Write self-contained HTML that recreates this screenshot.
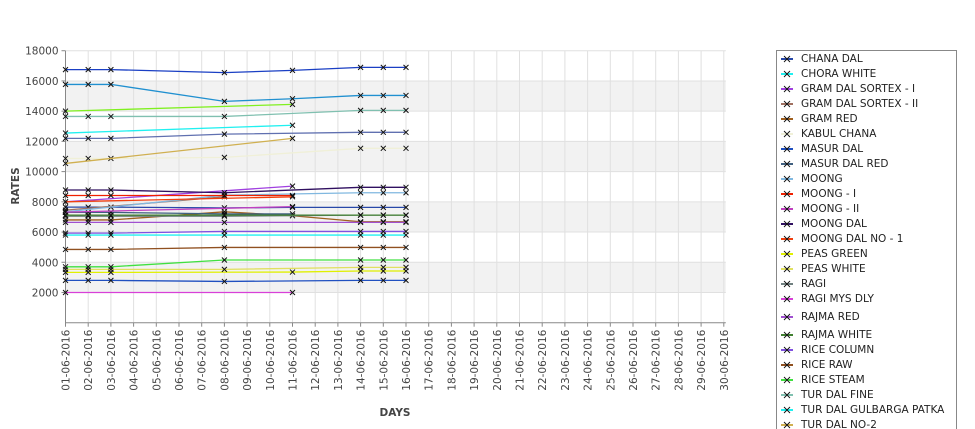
<!DOCTYPE html>
<html><head><meta charset="utf-8"><style>
body{margin:0;background:#fff;font-family:"DejaVu Sans","Liberation Sans",sans-serif;overflow:hidden;}
#wrap{position:relative;width:975px;height:429px;overflow:hidden;}
svg{display:block;}
</style></head><body>
<div id="wrap">
<svg id="chart" width="975" height="429"></svg>
</div>
<script>
const dayLabels = ["01-06-2016","02-06-2016","03-06-2016","04-06-2016","05-06-2016","06-06-2016","07-06-2016","08-06-2016","09-06-2016","10-06-2016","11-06-2016","12-06-2016","13-06-2016","14-06-2016","15-06-2016","16-06-2016","17-06-2016","18-06-2016","19-06-2016","20-06-2016","21-06-2016","22-06-2016","23-06-2016","24-06-2016","25-06-2016","26-06-2016","27-06-2016","28-06-2016","29-06-2016","30-06-2016"];
const yTicks = [2000,4000,6000,8000,10000,12000,14000,16000,18000];
const dataDays = [1,2,3,8,11,14,15,16];
const seriesNames = ["CHANA DAL","CHORA WHITE","GRAM DAL SORTEX  - I","GRAM DAL SORTEX - II","GRAM RED","KABUL CHANA","MASUR DAL","MASUR DAL RED","MOONG","MOONG - I","MOONG - II","MOONG DAL","MOONG DAL NO - 1","PEAS GREEN","PEAS WHITE","RAGI","RAGI MYS DLY","RAJMA RED","RAJMA WHITE","RICE COLUMN","RICE RAW","RICE STEAM","TUR DAL FINE","TUR DAL GULBARGA PATKA","TUR DAL NO-2","TUR DAL SORTEX","URAD DAL","URAD GOLA","WHEAT"];
const seriesColors = ["#2848a8","#20f0f0","#a040e0","#a07060","#a06020","#f0f0d8","#2050c0","#406080","#80b8e0","#f02000","#c040c0","#301060","#f04010","#e0f000","#e0e060","#708080","#d840d8","#a050d0","#408030","#8050e0","#905020","#40e040","#80c0b0","#20f0f0","#d0b050","#1a3fc4","#2090d0","#80f020","#6070b0"];
const seriesValues = [
 [7650,7650,7650,7600,7630,7630,7630,7630],
 [12550,null,null,null,13070,null,null,null],
 [8000,null,null,null,9040,null,null,null],
 [7450,null,null,8330,null,null,null,null],
 [6800,6800,6800,7340,7080,6680,6680,6680],
 [10870,10870,10870,10940,null,11540,11540,11540],
 [2800,2800,2800,2730,null,2800,2800,2800],
 [7300,7300,7300,7200,7200,null,null,null],
 [7340,null,null,8440,null,8600,8600,8600],
 [8420,8420,8420,8420,8420,null,null,null],
 [7320,null,null,null,7680,null,null,null],
 [8780,8780,8780,8600,null,8960,8960,8960],
 [8000,null,null,null,8330,null,null,null],
 [3330,3330,3330,null,3350,3420,3420,3420],
 [3530,3530,3530,3530,null,3660,3660,3660],
 [7050,7050,7050,7050,null,7120,7120,7120],
 [2000,null,null,null,2000,null,null,null],
 [6640,6640,6640,6640,null,6640,6640,6640],
 [7120,7120,7120,7120,null,7120,7120,7120],
 [5930,5930,5930,6040,null,6040,6040,6040],
 [4850,4850,4850,4980,null,4980,4980,4980],
 [3700,3700,3700,4150,null,4150,4150,4150],
 [13650,13650,13650,13650,null,14050,14050,14050],
 [5800,5800,5800,5800,null,5800,5800,5800],
 [10540,null,null,null,12200,null,null,null],
 [16750,16750,16750,16550,16700,16900,16900,16900],
 [15770,15770,15770,14650,14820,15040,15040,15040],
 [14000,null,null,null,14450,null,null,null],
 [12200,12200,12200,12480,null,12600,12600,12600]
];
const NS="http://www.w3.org/2000/svg";
const svg=document.getElementById('chart');
const X0=65.5, DX=22.7, Y0=322.7, KY=15.11/1000;
function xs(d){return X0+(d-1)*DX;}
function ys(v){return Y0-v*KY;}
function mk(tag,attrs,parent){const e=document.createElementNS(NS,tag);for(const k in attrs)e.setAttribute(k,attrs[k]);(parent||svg).appendChild(e);return e;}
for(let i=0;i<yTicks.length-1;i+=2){
 const b=mk('rect',{x:X0,y:ys(yTicks[i+1]),width:xs(30)-X0+2,height:ys(yTicks[i])-ys(yTicks[i+1]),fill:'#f2f2f2'});
 
 
}
yTicks.forEach(v=>{
 const l=mk('line',{x1:X0,x2:xs(30)+2,y1:ys(v),y2:ys(v),stroke:'#e0e0e0'});
 
 
 const t=mk('line',{x1:X0-4,x2:X0,y1:ys(v),y2:ys(v),stroke:'#888'});
 
 
 const tx=mk('text',{x:X0-7,y:ys(v)+4,'text-anchor':'end','font-size':'10.5',fill:'#444'});
 tx.textContent=v;
 
 
});
dayLabels.forEach((lab,i)=>{
 const x=xs(i+1);
 const g=mk('line',{x1:x,x2:x,y1:ys(18000),y2:Y0,stroke:'#e0e0e0'});
 
 
 const t=mk('line',{x1:x,x2:x,y1:Y0,y2:Y0+4,stroke:'#888'});
 
 
 const tx=mk('text',{x:x+4,y:Y0+7,'text-anchor':'end','font-size':'10.5',fill:'#444',transform:`rotate(-90 ${x+4} ${Y0+7})`});
 tx.textContent=lab;
 
 
});
const ax=mk('path',{d:`M${X0} ${ys(18000)}V${Y0}H${xs(30)+2}`,stroke:'#888',fill:'none'});


const yt=mk('text',{x:19,y:186,'text-anchor':'middle','font-size':'10.5','font-weight':'bold',fill:'#444',transform:'rotate(-90 19 186)'});
yt.textContent='RATES';


const xt=mk('text',{x:395,y:416,'text-anchor':'middle','font-size':'10.5','font-weight':'bold',fill:'#444'});
xt.textContent='DAYS';


seriesValues.forEach((vals,si)=>{
 const g=mk('g',{});
 
 
 const pts=[];
 vals.forEach((v,i)=>{if(v!==null)pts.push([xs(dataDays[i]),ys(v)]);});
 const pl=mk('polyline',{points:pts.map(p=>p.join(',')).join(' '),fill:'none',stroke:seriesColors[si],'stroke-width':'1.3'},g);
 
 
 pts.forEach(p=>{
  const m=mk('path',{d:`M${p[0]-2.5} ${p[1]-2.5}L${p[0]+2.5} ${p[1]+2.5}M${p[0]-2.5} ${p[1]+2.5}L${p[0]+2.5} ${p[1]-2.5}`,stroke:'#111','stroke-width':'1'},g);
  
  
 });
});
const lg=mk('g',{});


const lb=mk('path',{d:'M776.5 429V50.5H956.5V429',fill:'#fff',stroke:'#888'},lg);


const legendY=[58,73,88,103,118,133,148,163,178,193,208,223,238,253,268,283,298,316,334,349,364,379,394,409,424];
seriesNames.forEach((n,i)=>{
 if(i>=legendY.length)return;
 const y=legendY[i];
 const e=mk('g',{},lg);
 
 
 mk('line',{x1:781,x2:793,y1:y+1,y2:y+1,stroke:seriesColors[i],'stroke-width':'2'},e);
 mk('path',{d:`M784 ${y-2}L790 ${y+4}M784 ${y+4}L790 ${y-2}`,stroke:'#111','stroke-width':'0.9'},e);
 const t=mk('text',{x:801,y:y+4,'font-size':'10.5',fill:'#222'},e);
 t.textContent=n;
});
</script>
</body></html>
